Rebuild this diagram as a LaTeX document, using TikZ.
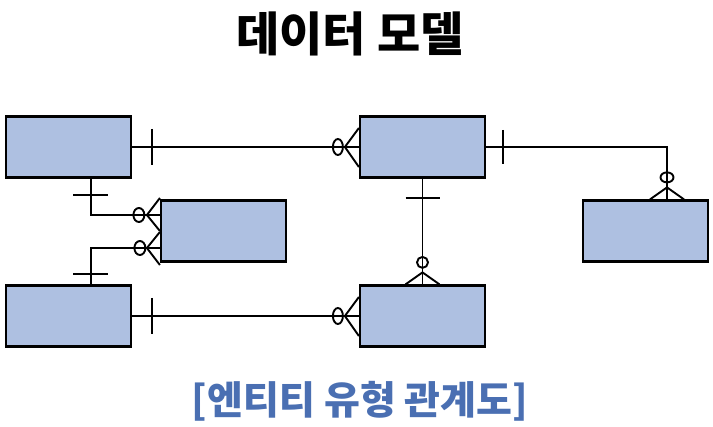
\documentclass[tikz,border=0pt]{standalone}
\usepackage{fontspec}
\newfontfamily\krfont{Noto Sans CJK KR}
\definecolor{boxblue}{RGB}{174,192,225}
\definecolor{captionblue}{RGB}{74,111,178}
\tikzset{
  entity/.style={draw, line width=2.2pt, fill=boxblue, minimum width=125pt, minimum height=61pt, inner sep=0pt},
  rel/.style={line width=1.9pt},
}

\begin{document}
\begin{tikzpicture}[x=1pt,y=-1pt]
\useasboundingbox (0,0) rectangle (713,427);

\node[font=\krfont\bfseries\fontsize{47}{54}\selectfont] (title) at (350,34) {데이터 모델};
\node[font=\krfont\bfseries\fontsize{39}{46}\selectfont, text=captionblue] (caption) at (360,401) {[엔티티 유형 관계도]};

\node[entity] (A) at (68.5,147) {};
\node[entity] (B) at (68.5,316) {};
\node[entity] (C) at (223.5,231) {};
\node[entity] (D) at (422.5,147) {};
\node[entity] (E) at (422.5,316) {};
\node[entity] (F) at (645.5,231) {};

% A -- D
\draw[rel] (A.east) -- (D.west);
\draw[rel] (A.east) ++(20,-18) -- ++(0,36);
\draw[rel] (D.west) ++(-21,0) ellipse (5 and 8);
\draw[rel] (D.west) ++(-14,0) -- ++(14,-19) ++(-14,19) -- ++(14,20);

% B -- E
\draw[rel] (B.east) -- (E.west);
\draw[rel] (B.east) ++(20,-18) -- ++(0,36);
\draw[rel] (E.west) ++(-21,0) ellipse (5 and 8);
\draw[rel] (E.west) ++(-14,0) -- ++(14,-19) ++(-14,19) -- ++(14,20);

% A -- C
\draw[rel] ([xshift=22.5pt]A.south) |- ([yshift=16pt]C.west);
\draw[rel] ([xshift=22.5pt]A.south) ++(-18,16) -- ++(35,0);
\draw[rel] ([yshift=16pt]C.west) ++(-21,0) ellipse (5.5 and 7);
\draw[rel] ([yshift=16pt]C.west) ++(-13,0) -- ++(13,-17) ++(-13,17) -- ++(13,16);

% B -- C
\draw[rel] ([xshift=22.5pt]B.north) |- ([yshift=-17pt]C.west);
\draw[rel] ([xshift=22.5pt]B.north) ++(-18,-10) -- ++(35,0);
\draw[rel] ([yshift=-17pt]C.west) ++(-20,0) ellipse (5.5 and 7);
\draw[rel] ([yshift=-17pt]C.west) ++(-13,0) -- ++(13,-16) ++(-13,16) -- ++(13,17);

% D -- E
\draw[rel] (D.south) -- (E.north);
\draw[rel] (D.south) ++(-17,19) -- ++(34,0);
\draw[rel] (E.north) ++(0,-22) circle (5.5);
\draw[rel] (E.north) ++(0,-12) -- ++(-17,12) ++(17,-12) -- ++(17,12);

% D -- F
\draw[rel] (D.east) -| ([xshift=21.5pt]F.north);
\draw[rel] (D.east) ++(17,-17) -- ++(0,34);
\draw[rel] ([xshift=21.5pt]F.north) ++(0,-22) ellipse (6.5 and 5);
\draw[rel] ([xshift=21.5pt]F.north) ++(0,-12) -- ++(-17,12) ++(17,-12) -- ++(17,12);
\end{tikzpicture}
\end{document}
